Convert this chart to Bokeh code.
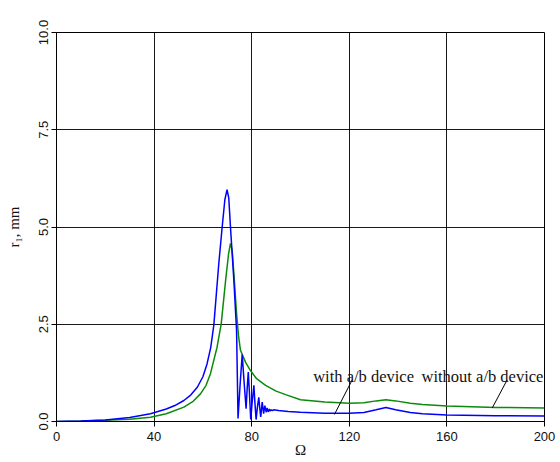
from bokeh.plotting import figure
from bokeh.models import Range1d, FixedTicker, NumeralTickFormatter, Label
from bokeh.embed import file_html
from bokeh.resources import INLINE

# ---- data ----
omega_with = [0, 10, 20, 30, 38.5, 45, 48.5, 52.2, 55, 57.7, 60, 61.7, 63.2, 64.5, 66.5,
              67.9, 69.0, 69.9, 70.6, 71.3, 72.7, 73.8, 74.4, 75.2, 76.1, 76.9, 77.7,
              78.1, 78.6, 79.1, 79.6, 80.2, 80.9, 81.3, 81.8, 82.3, 82.9, 83.3, 83.7,
              84.0, 84.3, 84.6, 84.9, 85.1, 85.4, 85.7, 86.0, 86.3, 86.6, 86.9, 87.2,
              87.6, 88.0, 88.5, 89, 91, 95, 100, 110, 120, 126, 131, 135, 139, 145, 150,
              160, 180, 200]
r_with = [0.0, 0.01, 0.04, 0.1, 0.2, 0.32, 0.41, 0.54, 0.68, 0.88, 1.15, 1.48, 1.9,
          2.49, 4.05, 5.0, 5.7, 5.96, 5.75, 5.0, 3.62, 2.34, 0.08, 0.9, 1.72, 1.0, 0.33,
          0.8, 1.27, 0.7, 0.05, 0.5, 0.93, 0.5, 0.05, 0.35, 0.62, 0.35, 0.12, 0.3, 0.5,
          0.35, 0.2, 0.3, 0.41, 0.3, 0.24, 0.35, 0.28, 0.25, 0.32, 0.27, 0.3, 0.28, 0.3,
          0.28, 0.26, 0.24, 0.21, 0.21, 0.23, 0.3, 0.36, 0.3, 0.23, 0.2, 0.17, 0.15,
          0.14]

omega_without = [0, 10, 20, 30, 38.5, 45, 52.2, 56, 59, 61.3, 63.1, 65.8, 67.5, 69.3,
                 70.5, 71.3, 72.0, 72.7, 73.8, 74.6, 75.4, 77.5, 79.5, 82, 85.7, 90,
                 93.9, 100, 110, 120, 126, 131, 135, 139, 145, 150, 160, 180, 200]
r_without = [0.0, 0.01, 0.03, 0.06, 0.11, 0.2, 0.37, 0.52, 0.71, 0.93, 1.23, 1.91, 2.51,
             3.62, 4.3, 4.58, 4.4, 3.8, 2.77, 2.2, 1.83, 1.52, 1.31, 1.1, 0.93, 0.78,
             0.69, 0.56, 0.5, 0.47, 0.48, 0.53, 0.56, 0.53, 0.47, 0.44, 0.4, 0.36, 0.35]

x_ticks = [0, 40, 80, 120, 160, 200]
y_ticks = [0, 2.5, 5, 7.5, 10]

x_title = "\u03a9"
y_title = "r\u2081, mm"
label_with = "with a/b device"
label_without = "without a/b device"
label_with_pos = (105.2, 1.16)
label_without_pos = (149.6, 1.16)
leader_with = ([121.2, 113.9], [1.07, 0.18])
leader_without = ([184.7, 178.6], [1.07, 0.35])

# ---- figure ----
p = figure(width=558, height=462, output_backend="svg", toolbar_location=None,
           x_range=Range1d(0, 200), y_range=Range1d(0, 10),
           min_border_left=56, min_border_right=14, min_border_top=32,
           min_border_bottom=41)
p.background_fill_color = "white"
p.border_fill_color = "white"
p.outline_line_color = "black"
p.outline_line_width = 1

for ax in (p.xaxis[0], p.yaxis[0]):
    ax.axis_line_color = "black"
    ax.major_tick_line_color = "black"
    ax.major_tick_out = 5
    ax.major_tick_in = 0
    ax.minor_tick_line_color = None
    ax.major_label_text_font = "Liberation Sans"
    ax.major_label_text_font_size = "13px"
    ax.major_label_text_color = "#111111"
    ax.axis_label_text_font = "Liberation Serif"
    ax.axis_label_text_font_style = "normal"
    ax.axis_label_text_color = "#111111"

p.xaxis.ticker = FixedTicker(ticks=x_ticks)
p.yaxis.ticker = FixedTicker(ticks=y_ticks)
p.yaxis.formatter = NumeralTickFormatter(format="0.0")
p.yaxis.major_label_orientation = "vertical"
p.xaxis.major_label_standoff = 5
p.yaxis.major_label_standoff = 4

p.xaxis.axis_label = x_title
p.xaxis.axis_label_text_font_size = "15px"
p.xaxis.axis_label_standoff = -2
p.yaxis.axis_label = y_title
p.yaxis.axis_label_text_font_size = "15px"
p.yaxis.axis_label_standoff = 14

p.xgrid.ticker = FixedTicker(ticks=x_ticks)
p.ygrid.ticker = FixedTicker(ticks=y_ticks)
p.grid.grid_line_color = "black"
p.grid.grid_line_width = 1
p.grid.grid_line_alpha = 0.9

p.line(omega_without, r_without, line_color="#0b8a0b", line_width=1.5)
p.line(omega_with, r_with, line_color="#0000ff", line_width=1.5)

p.line(leader_with[0], leader_with[1], line_color="black", line_width=1)
p.line(leader_without[0], leader_without[1], line_color="black", line_width=1)

for txt, pos in ((label_with, label_with_pos), (label_without, label_without_pos)):
    p.add_layout(Label(x=pos[0], y=pos[1], text=txt, text_font="Liberation Serif",
                       text_font_size="16.5px", text_color="#111111",
                       text_baseline="alphabetic", text_align="left"))

open("out.html", "w").write(file_html(p, INLINE))
